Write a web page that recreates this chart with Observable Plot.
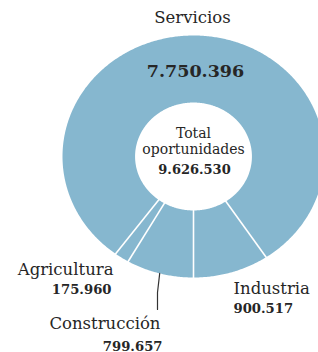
<!DOCTYPE html>
<html><head><meta charset="utf-8">
<script src="https://cdn.jsdelivr.net/npm/d3@7"></script>
<script src="https://cdn.jsdelivr.net/npm/@observablehq/plot@0.6"></script>
<style>body{margin:0;background:#fff}</style>
</head><body><div id="chart"></div>
<script>
// Data
const categories = ["Construcción", "Agricultura", "Servicios", "Industria"];
const values = [799657, 175960, 7750396, 900517];
const valueLabels = ["799.657", "175.960", "7.750.396", "900.517"];
const centerTitle = ["Total", "oportunidades"];
const totalLabel = "9.626.530";

// Layout (pixels)
const W = 318, H = 352, CX = 193, CY = 156, RX = 131, RY = 121, INNER = 0.446;
const px = p => (p - CX) / RX, py = p => (CY - p) / RY;
const FILL = "#86b7cf", INK = "#262626";

const pie = d3.pie().sort(null).startAngle(Math.PI).endAngle(3 * Math.PI);
const arcs = pie(values).map((a, i) => ({...a, cat: categories[i]}));

const ringPts = [];
for (const a of arcs) {
  const n = Math.max(2, Math.ceil((a.endAngle - a.startAngle) / 0.01));
  for (let k = 0; k <= n; k++) {
    const t = a.startAngle + (a.endAngle - a.startAngle) * k / n;
    ringPts.push({cat: a.cat, x: Math.sin(t), y: Math.cos(t)});
  }
  for (let k = n; k >= 0; k--) {
    const t = a.startAngle + (a.endAngle - a.startAngle) * k / n;
    ringPts.push({cat: a.cat, x: INNER * Math.sin(t), y: INNER * Math.cos(t)});
  }
}
const seps = arcs.map(a => ({
  x1: 0.98 * INNER * Math.sin(a.startAngle), y1: 0.98 * INNER * Math.cos(a.startAngle),
  x2: 1.02 * Math.sin(a.startAngle), y2: 1.02 * Math.cos(a.startAngle)
}));

const byCat = Object.fromEntries(arcs.map((a, i) => [a.cat, {...a, label: valueLabels[i]}]));
const cons = byCat["Construcción"];
const mid = (cons.startAngle + cons.endAngle) / 2;
const leader = [
  {x: Math.sin(mid), y: Math.cos(mid)},
  {x: px(157), y: py(292)},
  {x: px(157), y: py(309)}
];

// Label placements (anchor, baseline)
const nameLabels = [
  {text: "Servicios", x: px(192), y: py(22), anchor: "middle"},
  {text: "Agricultura", x: px(113), y: py(274), anchor: "end"},
  {text: "Construcción", x: px(160), y: py(328), anchor: "end"},
  {text: "Industria", x: px(233), y: py(293), anchor: "start"}
];
const numLabels = [
  {text: byCat["Agricultura"].label, x: px(111), y: py(293), anchor: "end"},
  {text: byCat["Construcción"].label, x: px(162), y: py(350), anchor: "end"},
  {text: byCat["Industria"].label, x: px(233), y: py(312), anchor: "start"}
];

const textMarks = (data, opts) => ["start", "middle", "end"].map(anchor =>
  Plot.text(data, {x: "x", y: "y", text: "text", filter: d => d.anchor === anchor, textAnchor: anchor, lineAnchor: "bottom", fill: INK, ...opts}));

const chart = Plot.plot({
  width: W, height: H, margin: 0,
  x: {domain: [px(0), px(W)], axis: null},
  y: {domain: [py(H), py(0)], axis: null},
  style: {fontFamily: "'DejaVu Serif', serif", background: "white", color: INK},
  marks: [
    Plot.line(ringPts, {x: "x", y: "y", z: "cat", fill: FILL, stroke: "none", curve: "linear"}),
    Plot.link(seps, {x1: "x1", y1: "y1", x2: "x2", y2: "y2", stroke: "white", strokeWidth: 1.6}),
    Plot.line(leader, {x: "x", y: "y", stroke: "#333", strokeWidth: 1.2}),
    ...textMarks(nameLabels, {fontSize: 16.5}),
    ...textMarks(numLabels, {fontSize: 13.2, fontWeight: "bold"}),
    Plot.text([byCat["Servicios"].label], {x: px(195), y: py(76), text: d => d, lineAnchor: "bottom", fontSize: 17.5, fontWeight: "bold", fill: INK}),
    Plot.text(centerTitle, {x: px(193), y: (d, i) => py(137 + i * 16.5), text: d => d, lineAnchor: "bottom", fontSize: 14, fill: INK}),
    Plot.text([totalLabel], {x: px(194), y: py(173), text: d => d, lineAnchor: "bottom", fontSize: 13, fontWeight: "bold", fill: INK})
  ]
});
document.getElementById("chart").append(chart);
</script>
</body></html>
